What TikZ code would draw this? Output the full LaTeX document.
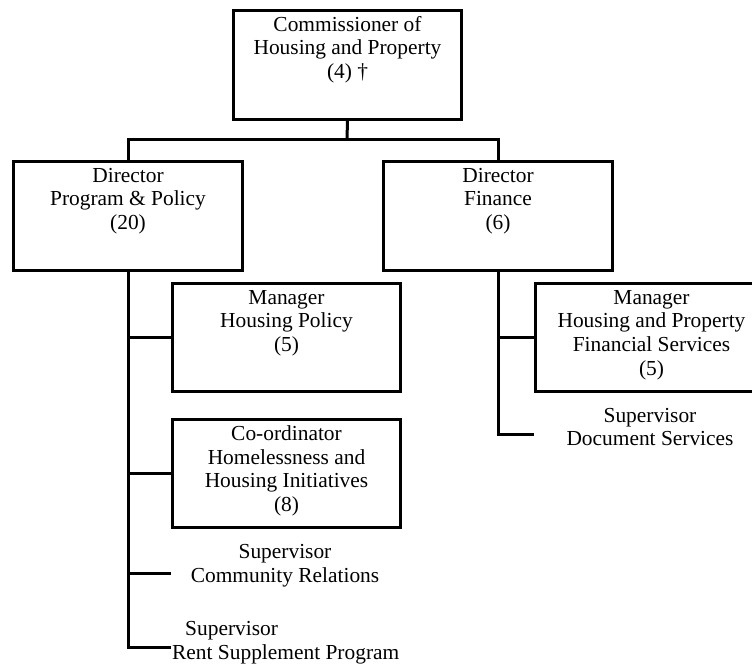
\documentclass[tikz,border=0pt]{standalone}
\usepackage{fontspec}
\setmainfont{Liberation Serif}
\begin{document}
\begin{tikzpicture}[x=1pt,y=-1pt,
  box/.style={draw, line width=3pt, rectangle, inner sep=0pt, anchor=north west},
  txt/.style={inner sep=0pt, align=center, anchor=north, font=\fontsize{21.4}{23.7}\selectfont},
  link/.style={line width=3pt}]
\useasboundingbox (0,0) rectangle (752,665);
% boxes
\node[box, minimum width=228, minimum height=109] (com) at (232,9) {};
\node[box, minimum width=229, minimum height=109] (dpp) at (12,160) {};
\node[box, minimum width=229, minimum height=109] (dfin) at (382,160) {};
\node[box, minimum width=228, minimum height=108] (mhp) at (171,282) {};
\node[box, minimum width=232, minimum height=108] (mfs) at (534,282) {};
\node[box, minimum width=228, minimum height=108] (coord) at (171,418) {};
% box texts
\node[txt] (comt) at ([yshift=-5.5pt]com.north) {\strut Commissioner of\\Housing and Property\\(4) †};
\node[txt] (dppt) at ([yshift=-5.5pt]dpp.north) {\strut Director\\Program \& Policy\\(20)};
\node[txt] (dfint) at ([yshift=-5.5pt]dfin.north) {\strut Director\\Finance\\(6)};
\node[txt] (mhpt) at ([yshift=-5.5pt]mhp.north) {\strut Manager\\Housing Policy\\(5)};
\node[txt] (mfst) at ([yshift=-5.5pt]mfs.north) {\strut Manager\\Housing and Property\\Financial Services\\(5)};
\node[txt] (coordt) at ([yshift=-5.5pt]coord.north) {\strut Co-ordinator\\Homelessness and\\Housing Initiatives\\(8)};
% supervisor texts
\node[txt] (sdt) at (650,405.5) {\strut Supervisor\\Document Services};
\node[txt] (sct) at (285,541.5) {\strut Supervisor\\Community Relations};
\node[txt, align=left, anchor=north west] (srt) at (172,618.5) {\strut\hspace{13pt}Supervisor\\Rent Supplement Program};
% connector ends
\coordinate (bus) at (347,139);
\coordinate (sdoc) at (534,434);
\coordinate (scom) at (171,573);
\coordinate (srent) at (171,647);
% connectors
\draw[link] (com.south) -- (bus);
\draw[link] (dpp.north) -- ++(0,-21) -| (dfin.north);
\draw[link] (dpp.south) |- (srent);
\draw[link] (dpp.south |- mhp.west) -- (mhp.west);
\draw[link] (dpp.south |- coord.west) -- (coord.west);
\draw[link] (dpp.south |- scom) -- (scom);
\draw[link] (dfin.south) |- (sdoc);
\draw[link] (dfin.south |- mfs.west) -- (mfs.west);
\end{tikzpicture}
\end{document}
